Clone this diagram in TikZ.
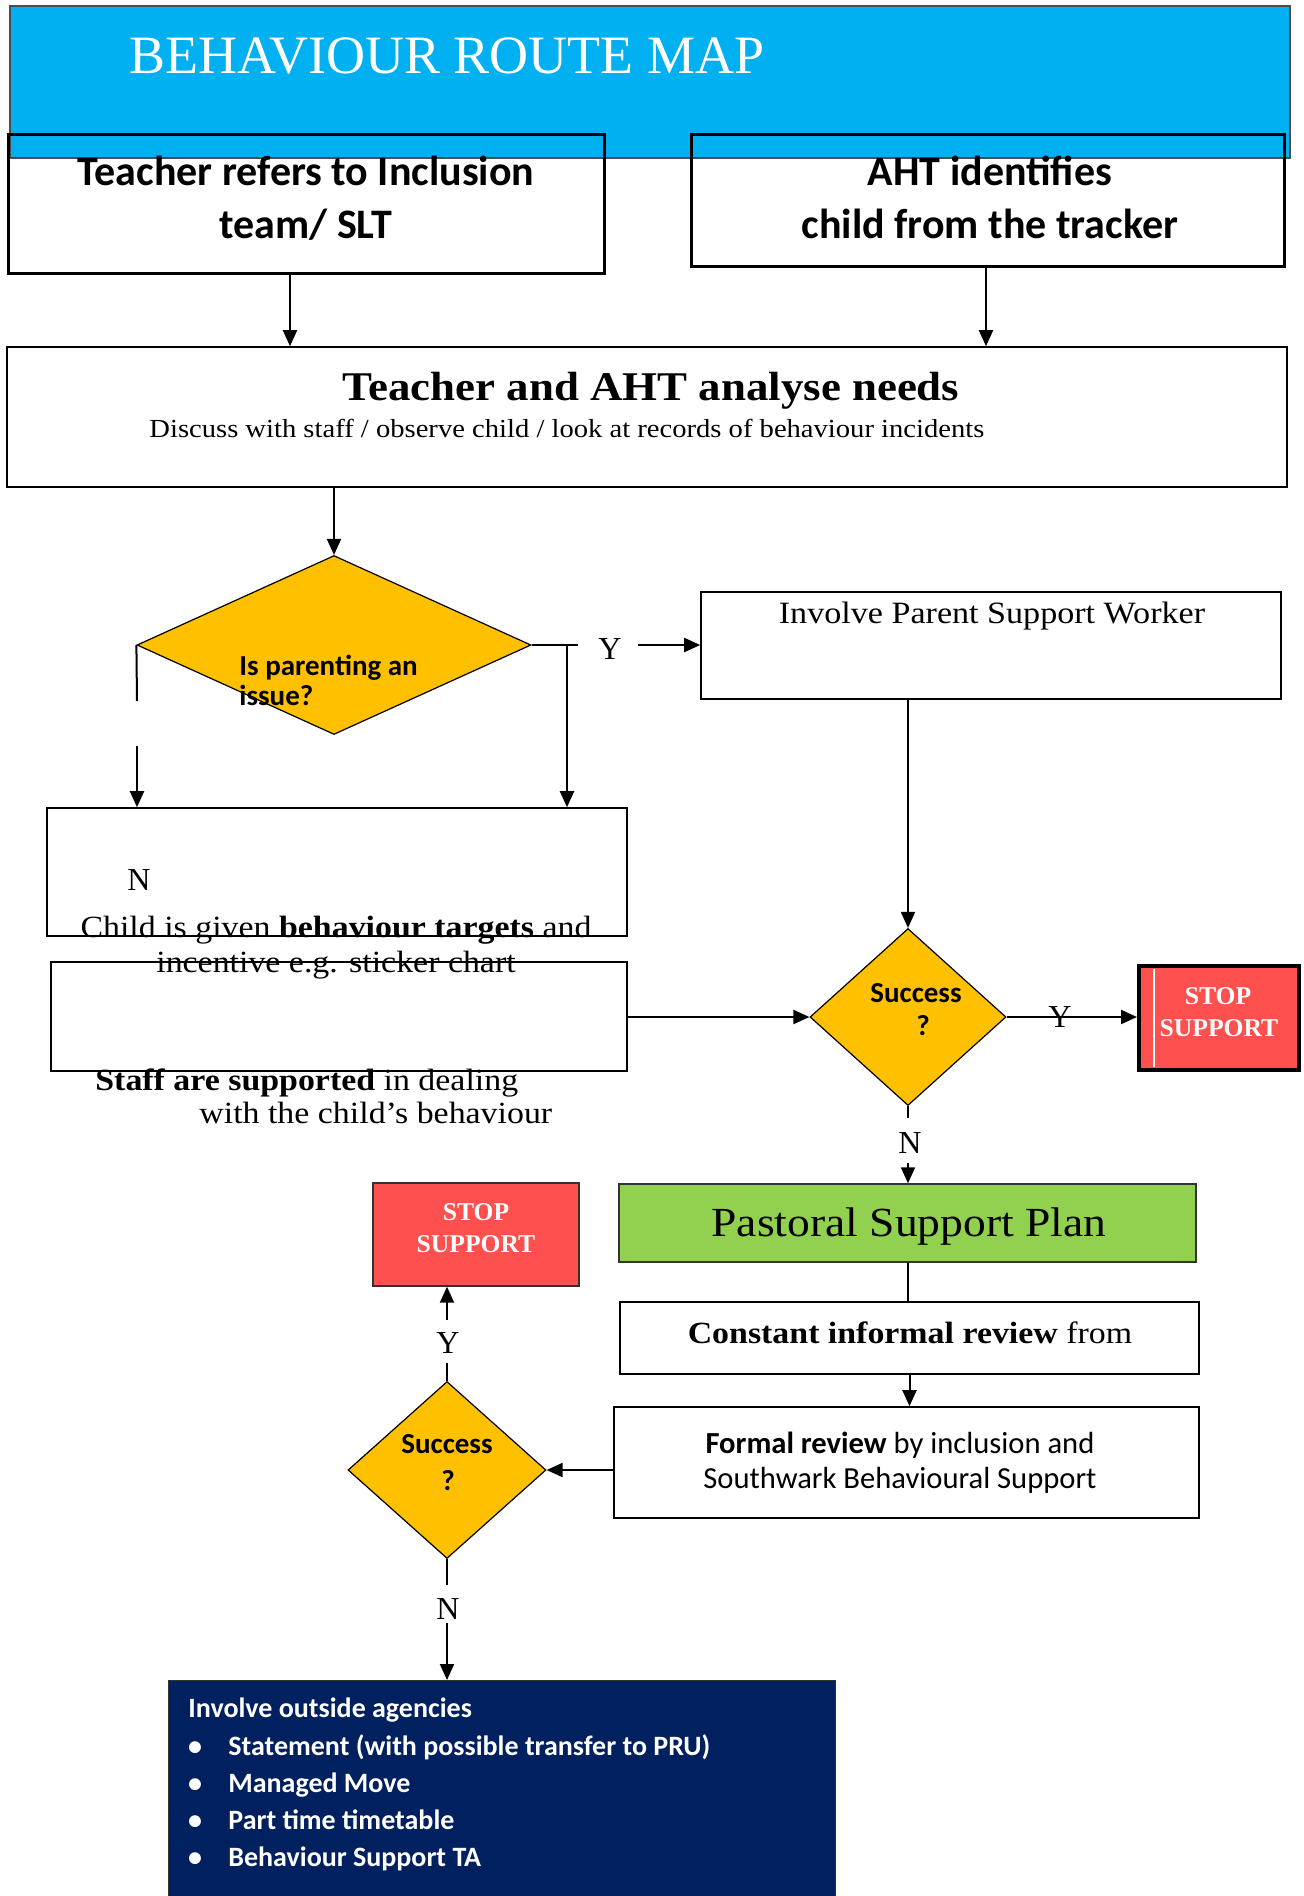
\documentclass[tikz,border=0pt]{standalone}
\usepackage{fontspec}
\setmainfont{Liberation Serif}
\newfontfamily\camb[FakeStretch=1.1]{Liberation Serif}
\newfontfamily\calib{Carlito}
\usetikzlibrary{shapes.geometric,arrows.meta}
\definecolor{hdrblue}{HTML}{00B0F0}
\definecolor{dyellow}{HTML}{FFC000}
\definecolor{stopred}{HTML}{FF5050}
\definecolor{pgreen}{HTML}{92D050}
\definecolor{navyb}{HTML}{002060}
\tikzset{
  sz/.style 2 args={minimum width=#1*0.5pt, minimum height=#2*0.5pt, inner sep=0pt},
  box/.style={draw=black, line width=0.8pt, inner sep=0pt},
  thickbox/.style={draw=black, line width=1.5pt, inner sep=0pt},
  dia/.style={diamond, draw=black, line width=0.6pt, fill=dyellow, inner sep=0pt},
  lbl/.style={inner sep=0pt, anchor=base},
  lblw/.style={inner sep=0pt, anchor=base west},
  ln/.style={line width=1pt, draw=black},
  arr/.style={line width=1pt, draw=black, -{Triangle[length=8pt,width=7pt]}},
  fcal/.style={font=\calib\bfseries\fontsize{21}{26}\selectfont},
  fyn/.style={font=\fontsize{16}{18}\selectfont},
  fbody/.style={font=\camb\fontsize{15.4}{18}\selectfont},
  fstop/.style={font=\bfseries\fontsize{12.8}{15}\selectfont, text=white},
  fsucc/.style={font=\calib\bfseries\fontsize{14.5}{17}\selectfont},
  fnavy/.style={font=\calib\bfseries\fontsize{14}{17}\selectfont, text=white}
}
\begin{document}
\begin{tikzpicture}[x=0.5pt,y=-0.5pt]
\clip (0,0) rectangle (1303,1896);
\fill[white] (0,0) rectangle (1303,1896);

% header
\node[draw=black!70, line width=0.6pt, fill=hdrblue, sz={1280}{152}] (hdr) at (650,82) {};
\node[lblw, text=white, font=\fontsize{27}{30}\selectfont] (title) at (129,73) {BEHAVIOUR ROUTE MAP};

% top boxes
\node[thickbox, sz={596}{139}] (b1) at (306,203.5) {};
\node[lbl, fcal] (t1a) at (306,185) {Teacher refers to Inclusion};
\node[lbl, fcal] (t1b) at (306,238) {team/ SLT};
\node[thickbox, sz={593}{132}] (b2) at (987.5,200) {};
\node[lbl, fcal] (t2a) at (990,185) {AHT identifies};
\node[lbl, fcal] (t2b) at (990,238) {child from the tracker};

% main box
\node[box, sz={1280}{140}] (mbox) at (647,417) {};
\node[lbl, font=\camb\bfseries\fontsize{20.4}{24}\selectfont] (mt) at (651,400) {Teacher and AHT analyse needs};
\node[lblw, font=\camb\fontsize{13}{15}\selectfont] (ms) at (149,437) {Discuss with staff / observe child / look at records of behaviour incidents};

% diamond 1
\node[dia, minimum width=197pt, minimum height=89.5pt] (d1) at (334,645) {};
\node[lblw, fsucc] (d1a) at (239,675) {Is parenting an};
\node[lblw, fsucc] (d1b) at (239,705) {issue?};
\node[lbl, fyn] (y1) at (610,659) {Y};

% parent support worker
\node[box, sz={580}{107}] (psw) at (991,645.5) {};
\node[lbl, font=\camb\fontsize{15.5}{18}\selectfont] (pswt) at (992,623) {Involve Parent Support Worker};

% N box and staff box
\node[box, sz={580}{128}] (nbox) at (337,872) {};
\node[lbl, fyn] (n1) at (139,890) {N};
\node[lbl, fbody] (child) at (336,937) {Child is given \textbf{behaviour targets} and};
\node[lbl, fbody] (inc) at (336,972) {incentive e.g. sticker chart};
\node[box, sz={576}{109}] (staff) at (339,1016.5) {};
\node[lblw, fbody] (stafft) at (95,1090) {\textbf{Staff are supported} in dealing};
\node[lblw, fbody] (witht) at (199,1123) {with the child’s behaviour};

% success 1
\node[dia, minimum width=98pt, minimum height=88.5pt] (s1) at (908,1017) {};
\node[lbl, fsucc] (s1a) at (916,1002) {Success};
\node[lbl, fsucc] (s1b) at (923,1035) {?};
\node[lbl, fyn] (y2) at (1060,1027) {Y};
\node[draw=black, line width=2pt, fill=stopred, sz={160}{104}] (stop1) at (1219,1018) {};
\draw[white, line width=0.6pt] (1154,969) -- (1154,1067);
\node[lbl, fstop] (st1a) at (1218,1004) {STOP};
\node[lbl, fstop] (st1b) at (1219,1036) {SUPPORT};
\node[lbl, fyn] (n2) at (910,1153) {N};

% pastoral support plan
\node[draw=black!80, line width=0.7pt, fill=pgreen, sz={577}{78}] (psp) at (907.5,1223) {};
\node[lbl, font=\camb\fontsize{20.7}{24}\selectfont] (pspt) at (909,1236) {Pastoral Support Plan};
\node[box, sz={579}{72}] (cib) at (909.5,1338) {};
\node[lbl, fbody] (cibt) at (910,1343) {\textbf{Constant informal review} from};
\node[box, sz={585}{111}] (formal) at (906.5,1462.5) {};
\node[lbl, font=\calib\fontsize{15.3}{18}\selectfont] (fa) at (900,1453) {\textbf{Formal review} by inclusion and};
\node[lbl, font=\calib\fontsize{15.3}{18}\selectfont] (fb) at (900,1488) {Southwark Behavioural Support};

% stop 2 and success 2
\node[draw=black!80, line width=0.7pt, fill=stopred, sz={206}{103}] (stop2) at (476,1234.5) {};
\node[lbl, fstop] (st2a) at (476,1220) {STOP};
\node[lbl, fstop] (st2b) at (476,1252) {SUPPORT};
\node[dia, minimum width=99pt, minimum height=88.5pt] (s2) at (447,1470) {};
\node[lbl, fsucc] (s2a) at (447,1453) {Success};
\node[lbl, fsucc] (s2b) at (448,1490) {?};
\node[lbl, fyn] (y3) at (448,1353) {Y};
\node[lbl, fyn] (n3) at (448,1619) {N};

% navy box
\node[draw=black!80, line width=0.7pt, fill=navyb, sz={667}{240}, anchor=north west] (navy) at (168,1680) {};
\node[lblw, fnavy] (nv0) at (188,1717) {Involve outside agencies};
\foreach \yy/\tt [count=\i] in {1755/{Statement (with possible transfer to PRU)},1792/{Managed Move},1829/{Part time timetable},1866/{Behaviour Support TA}}{
  \node[lbl, fnavy] (bul\i) at (195,\yy) {•};
  \node[lblw, fnavy] (nv\i) at (228,\yy) {\tt};
}

% connectors
\coordinate (a1) at (290,0);
\coordinate (a2) at (986,0);
\draw[arr] (b1.south -| a1) -- (mbox.north -| a1);
\draw[arr] (b2.south -| a2) -- (mbox.north -| a2);
\draw[arr] (mbox.south -| d1.north) -- (d1.north);

\coordinate (j1) at (578,645);
\coordinate (j2) at (638,645);
\coordinate (j3) at (567,645);
\draw[ln] (d1.east) -- (j1);
\draw[arr] (j2) -- (j2 -| psw.west);
\draw[arr] (j3) -- (j3 |- nbox.north);
\coordinate (j4) at (137,701);
\coordinate (j5) at (137,746);
\draw[ln] (d1.west) -- (j4);
\draw[arr] (j5) -- (j5 |- nbox.north);

\draw[arr] (psw.south -| s1.north) -- (s1.north);
\draw[arr] (staff.east |- s1.west) -- (s1.west);
\draw[arr] (s1.east) -- (s1.east -| stop1.west);
\coordinate (j6) at (908,1118);
\coordinate (j7) at (908,1163);
\draw[ln] (s1.south) -- (j6);
\draw[arr] (j7) -- (j7 |- psp.north);

\draw[ln] (psp.south) -- (psp.south |- cib.north);
\draw[arr] (cib.south) -- (cib.south |- formal.north);
\draw[arr] (s2.east -| formal.west) -- (s2.east);

\coordinate (j8) at (447,1363);
\coordinate (j9) at (447,1320);
\draw[ln] (s2.north) -- (j8);
\draw[arr] (j9) -- (j9 |- stop2.south);
\coordinate (j10) at (447,1585);
\coordinate (j11) at (447,1623);
\draw[ln] (s2.south) -- (j10);
\draw[arr] (j11) -- (j11 |- navy.north);
\end{tikzpicture}
\end{document}
